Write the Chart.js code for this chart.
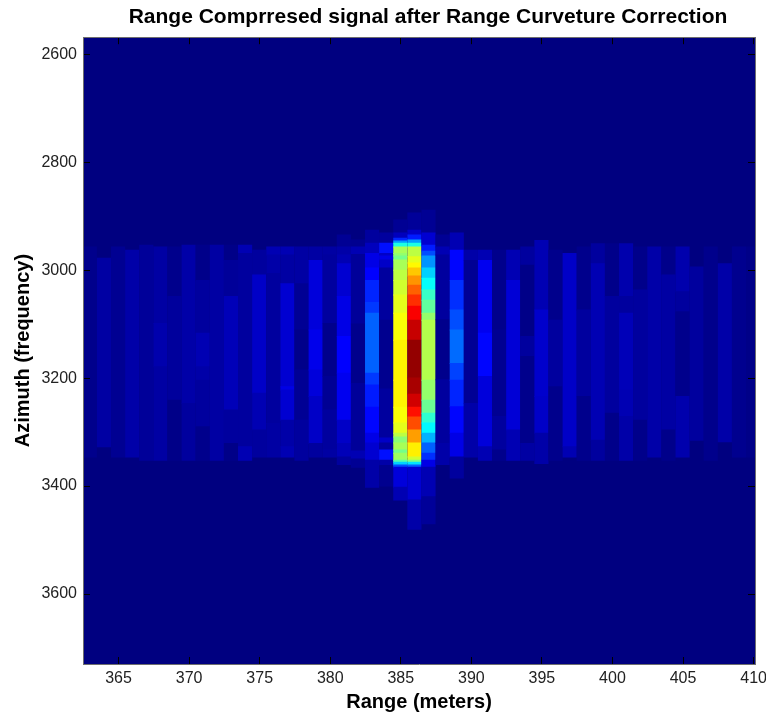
<!DOCTYPE html>
<html><head><meta charset="utf-8">
<style>html,body{margin:0;padding:0;background:#fff}#w{width:766px;height:717px}</style>
<script src="https://cdn.jsdelivr.net/npm/chart.js@4"></script>
</head><body><div id="w"><canvas id="c" width="766" height="717"></canvas></div>
<script>
const titleText = 'Range Comprresed signal after Range Curveture Correction';
const xLabel = 'Range (meters)';
const yLabel = 'Azimuth (frequency)';
const rangeTicks = [365,370,375,380,385,390,395,400,405,410];
const azimuthTicks = [2600,2800,3000,3200,3400,3600];
const rangeMin = 362.48, rangeMax = 410.1;
const azimuthMin = 2568.5, azimuthMax = 3729.6;
const rangeBins = [363,364,365,366,367,368,369,370,371,372,373,374,375,376,377,378,379,380,381,382,383,384,385,386,387,388,389,390,391,392,393,394,395,396,397,398,399,400,401,402,403,404,405,406,407,408,409,410];
// each bin: steps of [azimuth where this level starts, normalised amplitude]
const c363 = [[2957,.012],[3346,0]];
const c364 = [[2978,.035],[3327,0]];
const c365 = [[2957,.018],[3346,0]];
const c366 = [[2963,.04],[3346,0]];
const c367 = [[2954,.025],[3352,0]];
const c368 = [[2957,.035],[3099,.045],[3179,.035],[3352,0]];
const c369 = [[2957,.012],[3049,.028],[3241,.008],[3352,0]];
const c370 = [[2954,.04],[3247,.03],[3352,0]];
const c371 = [[2954,.01],[3019,.03],[3117,.05],[3179,.04],[3204,.03],[3290,.012],[3352,0]];
const c372 = [[2954,.035],[3352,0]];
const c373 = [[2954,.008],[2982,.025],[3049,.055],[3259,.03],[3321,.008],[3352,0]];
const c374 = [[2954,.05],[2969,.03],[3327,.05],[3352,0]];
const c375 = [[2963,.03],[3009,.07],[3228,.05],[3296,.03],[3346,0]];
const c376 = [[2957,.05],[2972,.04],[3006,.03],[3284,.035],[3346,0]];
const c377 = [[2957,.05],[2972,.035],[3025,.08],[3216,.1],[3222,.08],[3278,.04],[3327,.05],[3346,0]];
const c378 = [[2957,.035],[3025,.02],[3111,.01],[3185,.02],[3278,.03],[3352,0]];
const c379 = [[2957,.035],[2982,.09],[3111,.105],[3185,.09],[3234,.07],[3321,.03],[3346,0]];
const c380 = [[2957,.035],[2972,.03],[3099,.012],[3197,.02],[3259,.03],[3333,.035],[3346,0]];
const c381 = [[2935,.02],[2957,.04],[2972,.05],[2988,.08],[3049,.1],[3123,.125],[3191,.11],[3278,.07],[3321,.055],[3346,.03],[3360,0]];
const c382 = [[2944,.015],[2957,.05],[2971,.025],[3100,.012],[3210,.025],[3335,.05],[3350,.02],[3365,0]];
const c383 = [[2926,.03],[2950,.06],[2969,.1],[2996,.125],[3019,.16],[3060,.18],[3080,.22],[3191,.18],[3213,.15],[3254,.13],[3302,.1],[3320,.08],[3352,.04],[3402,0]];
const c384 = [[2931,.03],[2950,.14],[2969,.07],[2974,.1],[2981,.07],[2996,.03],[3093,.015],[3220,.03],[3311,.07],[3320,.03],[3333,.14],[3352,.04],[3362,.015],[3400,0]];
const c385 = [[2907,.02],[2931,.06],[2941,.16],[2946,.28],[2950,.4],[2957,.54],[2969,.52],[2974,.49],[2981,.54],[3000,.56],[3019,.58],[3046,.6],[3080,.62],[3130,.635],[3204,.635],[3254,.62],[3283,.6],[3302,.56],[3309,.51],[3320,.54],[3333,.49],[3339,.53],[3352,.46],[3356,.33],[3361,.2],[3365,.09],[3402,.05],[3426,0]];
const c386 = [[2894,.025],[2926,.07],[2935,.15],[2944,.28],[2950,.4],[2957,.56],[2975,.6],[2987,.63],[2996,.68],[3011,.73],[3028,.78],[3046,.83],[3067,.88],[3093,.93],[3130,.98],[3200,.96],[3230,.92],[3254,.86],[3272,.8],[3296,.72],[3320,.64],[3346,.58],[3352,.5],[3356,.35],[3361,.22],[3365,.08],[3426,.04],[3480,0]];
const c387 = [[2889,.02],[2931,.08],[2954,.15],[2965,.2],[2974,.27],[2996,.33],[3015,.38],[3037,.43],[3056,.47],[3080,.52],[3093,.55],[3204,.52],[3241,.48],[3265,.42],[3283,.37],[3302,.3],[3320,.22],[3339,.17],[3352,.1],[3365,.05],[3420,.025],[3470,0]];
const c388 = [[2935,.02],[2957,.05],[2972,.03],[3092,.012],[3203,.03],[3321,.04],[3360,0]];
const c389 = [[2931,.05],[2963,.13],[3019,.17],[3074,.2],[3111,.23],[3173,.19],[3204,.16],[3253,.13],[3302,.1],[3346,.03],[3385,0]];
const c390 = [[2963,.04],[2982,.02],[3247,.04],[3346,0]];
const c391 = [[2963,.05],[2982,.11],[3117,.13],[3197,.09],[3327,.05],[3352,0]];
const c392 = [[2963,.012],[3111,.018],[3271,.03],[3333,.012],[3352,0]];
const c393 = [[2963,.05],[3019,.085],[3296,.05],[3352,0]];
const c394 = [[2957,.03],[2991,.008],[3123,.03],[3160,.012],[3321,.035],[3352,0]];
const c395 = [[2945,.05],[3074,.075],[3234,.07],[3302,.04],[3358,0]];
const c396 = [[2963,.012],[3093,.03],[3216,.012],[3352,0]];
const c397 = [[2969,.07],[3327,.05],[3346,0]];
const c398 = [[2957,.012],[3074,.03],[3234,.012],[3352,0]];
const c399 = [[2951,.03],[2988,.05],[3315,.03],[3352,0]];
const c400 = [[2951,.01],[3049,.03],[3265,.01],[3352,0]];
const c401 = [[2951,.045],[3049,.03],[3080,.055],[3222,.05],[3271,.04],[3352,0]];
const c402 = [[2957,.01],[3037,.03],[3278,.01],[3352,0]];
const c403 = [[2957,.04],[3346,0]];
const c404 = [[2957,.01],[3009,.035],[3296,.01],[3352,0]];
const c405 = [[2957,.045],[3040,.03],[3077,.012],[3234,.045],[3346,0]];
const c406 = [[2994,.03],[3315,0]];
const c407 = [[2957,.012],[3352,0]];
const c408 = [[2988,.04],[3318,0]];
const c409 = [[2957,.015],[3346,0]];
const c410 = [[2957,.008],[3346,0]];
const binLevels = [c363,c364,c365,c366,c367,c368,c369,c370,c371,c372,c373,c374,c375,c376,c377,c378,c379,c380,c381,c382,c383,c384,c385,c386,c387,c388,c389,c390,c391,c392,c393,c394,c395,c396,c397,c398,c399,c400,c401,c402,c403,c404,c405,c406,c407,c408,c409,c410];

function jet(v){
  const ramp = t => Math.round(255*Math.max(0,Math.min(1,1.5-Math.abs(4*t))));
  return `rgb(${ramp(v-.75)},${ramp(v-.5)},${ramp(v-.25)})`;
}
const cells = [];
rangeBins.forEach((x,i)=>{
  cells.push({x, y:[azimuthMin,azimuthMax], v:0});
  const s = binLevels[i];
  for(let k=0;k<s.length-1;k++) cells.push({x, y:[s[k][0],s[k+1][0]], v:s[k][1]});
});

const sans = '"Liberation Sans", Arial, sans-serif';
const side = (pos, values, extra) => Object.assign({
  type:'linear', position:pos, offset:false,
  border:{display:true,color:'#6e6e6e',width:1,z:1},
  grid:{offset:false,drawOnChartArea:false,drawTicks:true,tickLength:-7,tickColor:'#000',tickWidth:1,z:1},
  afterBuildTicks:s=>{s.ticks=values.map(value=>({value}));}
},extra);
const noLabels = {display:false};
const plain = v => String(v);
const titleOffset = {id:'titleOffset',afterLayout(chart){
  const b=chart.titleBlock; if(b){b.left+=9;b.right+=9;}
}};

new Chart(document.getElementById('c'),{
  type:'bar',
  data:{datasets:[{data:cells,grouped:false,barThickness:14.1,inflateAmount:.5,borderWidth:0,
    backgroundColor:c=>c.raw?jet(c.raw.v):'#000',parsing:{xAxisKey:'x',yAxisKey:'y'}}]},
  plugins:[titleOffset],
  options:{
    responsive:false,animation:false,
    layout:{padding:{left:0,right:11,top:0,bottom:0}},
    plugins:{legend:{display:false},tooltip:{enabled:false},
      title:{display:true,text:titleText,fullSize:false,color:'#000',
        font:{family:sans,size:21,weight:'bold'},padding:{top:5,bottom:7}}},
    scales:{
      x:side('bottom',rangeTicks,{min:rangeMin,max:rangeMax,
        ticks:{color:'#222',font:{family:sans,size:16},padding:12,maxRotation:0,autoSkip:false,callback:plain},
        title:{display:true,text:xLabel,color:'#000',font:{family:sans,size:20,weight:'bold'},padding:{top:0,bottom:3}},
        afterFit:s=>{s.height=53;s.paddingLeft=0;s.paddingRight=0;}}),
      y:side('left',azimuthTicks,{reverse:true,min:azimuthMin,max:azimuthMax,
        ticks:{color:'#222',font:{family:sans,size:16},padding:13,autoSkip:false,callback:plain},
        title:{display:true,text:yLabel,color:'#000',font:{family:sans,size:20,weight:'bold'},padding:{top:11,bottom:0}},
        afterFit:s=>{s.width=83;s.paddingTop=0;s.paddingBottom=0;}}),
      xTop:side('top',rangeTicks,{min:rangeMin,max:rangeMax,ticks:noLabels,afterFit:s=>{s.height=0;}}),
      yRight:side('right',azimuthTicks,{reverse:true,min:azimuthMin,max:azimuthMax,ticks:noLabels,afterFit:s=>{s.width=0;}})
    }
  }
});
</script></body></html>
